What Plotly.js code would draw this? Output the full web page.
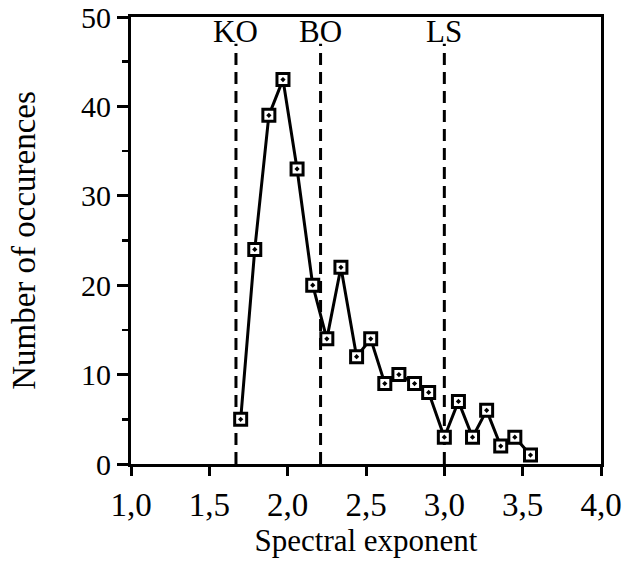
<!DOCTYPE html>
<html>
<head>
<meta charset="utf-8">
<script src="https://cdn.plot.ly/plotly-3.0.1.min.js"></script>
<style>html,body{margin:0;padding:0;background:#fff;}#chart{width:636px;height:571px;}</style>
</head>
<body>
<div id="chart"></div>
<script>
// Data
const spectralExponent = [1.70, 1.79, 1.88, 1.97, 2.06, 2.16, 2.25, 2.34, 2.44, 2.53, 2.62, 2.71, 2.81, 2.90, 3.00, 3.09, 3.18, 3.27, 3.36, 3.45, 3.55];
const occurrences      = [5, 24, 39, 43, 33, 20, 14, 22, 12, 14, 9, 10, 9, 8, 3, 7, 3, 6, 2, 3, 1];
const refPositions = [1.67, 2.21, 3.00];
const refLabels    = ['KO', 'BO', 'LS'];
const refTop = 47;
const refLabelY = 48.4;
const xTickVals = [1.0, 1.5, 2.0, 2.5, 3.0, 3.5, 4.0];
const xTickText = ['1,0', '1,5', '2,0', '2,5', '3,0', '3,5', '4,0'];
const yTickVals = [0, 10, 20, 30, 40, 50];

const font = 'Liberation Serif, Times New Roman, serif';

const traces = [];
refPositions.forEach(function (v) {
  traces.push({
    x: [v, v], y: [0, refTop], mode: 'lines', type: 'scatter',
    line: {color: '#000', width: 3, dash: '12px,7px'},
    hoverinfo: 'skip', showlegend: false
  });
});
traces.push({
  x: spectralExponent, y: occurrences, mode: 'lines+markers', type: 'scatter',
  line: {color: '#000', width: 3},
  marker: {symbol: 'square-dot', size: 12, color: '#fff', line: {color: '#000', width: 3}},
  showlegend: false
});

const annotations = refPositions.map(function (v, i) {
  return {x: v, y: refLabelY, xref: 'x', yref: 'y', text: refLabels[i], showarrow: false,
    font: {family: font, size: 31, color: '#000'}, xanchor: 'center', yanchor: 'middle'};
});

const layout = {
  width: 636, height: 571,
  margin: {l: 131, r: 35, t: 17, b: 107},
  paper_bgcolor: '#fff', plot_bgcolor: '#fff',
  font: {family: font, color: '#000'},
  xaxis: {
    range: [1.0, 4.0], tickvals: xTickVals, ticktext: xTickText,
    ticks: 'outside', ticklen: 9, tickwidth: 3, tickcolor: '#000',
    showline: true, linewidth: 3, linecolor: '#000', mirror: true,
    showgrid: false, zeroline: false, automargin: false, ticklabeloverflow: 'allow',
    tickfont: {family: font, size: 33, color: '#000'},
    title: {text: 'Spectral exponent', font: {family: font, size: 31, color: '#000'}, standoff: 6}
  },
  yaxis: {
    range: [0, 50], tickvals: yTickVals,
    ticks: 'outside', ticklen: 11, tickwidth: 3, tickcolor: '#000',
    minor: {dtick: 5, ticks: 'outside', ticklen: 6, tickwidth: 2.5, tickcolor: '#000', showgrid: false},
    showline: true, linewidth: 3, linecolor: '#000', mirror: true,
    showgrid: false, zeroline: false, automargin: false, ticklabeloverflow: 'allow',
    tickfont: {family: font, size: 30, color: '#000'},
    title: {text: 'Number of occurences', font: {family: font, size: 33, color: '#000'}, standoff: 36}
  },
  annotations: annotations
};

Plotly.newPlot('chart', traces, layout, {displayModeBar: false, staticPlot: true});
</script>
</body>
</html>
